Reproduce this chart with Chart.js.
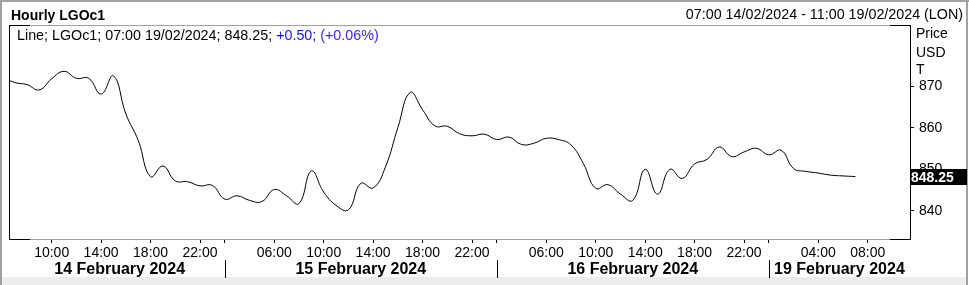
<!DOCTYPE html>
<html>
<head>
<meta charset="utf-8">
<script src="https://cdn.jsdelivr.net/npm/chart.js@4.4.1/dist/chart.umd.min.js"></script>
<style>
  html, body { margin: 0; padding: 0; background: #fff; }
  canvas { display: block; }
</style>
</head>
<body>
<canvas id="priceChart" width="969" height="285"></canvas>
<script>
// Hourly bars per trading day (London time)
const dayNames = ['14 February 2024', '15 February 2024', '16 February 2024', '19 February 2024'];
const hours14 = ['06:00', '07:00', '08:00', '09:00', '10:00', '11:00', '12:00', '13:00', '14:00',
    '15:00', '16:00', '17:00', '18:00', '19:00', '20:00', '21:00', '22:00', '23:00'];
const hours15 = ['02:00', '03:00', '04:00', '05:00', '06:00', '07:00', '08:00', '09:00', '10:00', '11:00', '12:00',
    '13:00', '14:00', '15:00', '16:00', '17:00', '18:00', '19:00', '20:00', '21:00', '22:00', '23:00'];
const hours16 = hours15;
const hours19 = ['00:00', '01:00', '02:00', '03:00', '04:00', '05:00', '06:00', '07:00', '08:00', '09:00', '10:00', '11:00'];

// labelled hours on the time axis, per day
const shownHours = [
    ['10:00', '14:00', '18:00', '22:00'],
    ['06:00', '10:00', '14:00', '18:00', '22:00'],
    ['06:00', '10:00', '14:00', '18:00', '22:00'],
    ['04:00', '08:00']
];

// LGOc1 close, USD/T (06:00 14 Feb to 07:00 19 Feb)
const prices = [
    872.4, 871.0, 870.5, 869.2, 871.9, 873.7, 872.0, 872.0, 868.2, 872.6, 863.4, 857.0, 848.2, 850.8, 847.2, 847.0, 846.0, 846.1,
    842.8, 843.6, 842.5, 842.2, 845.1, 843.6, 841.7, 849.6, 844.5, 841.3, 840.2, 846.6, 845.5, 850.6, 860.1, 868.6, 864.4, 860.5, 860.4, 858.6, 858.1, 858.5,
    857.2, 857.8, 856.0, 856.3, 857.5, 857.2, 855.9, 851.4, 845.4, 846.3, 844.0, 842.5, 850.0, 844.0, 850.0, 847.8, 851.3, 852.4, 855.4, 853.1, 854.2, 855.1,
    853.5, 854.6, 850.2, 849.5, 849.1, 848.6, 848.4, 848.25
];
const yTicks = [840, 850, 860, 870];

const FONT = "'Liberation Sans', Arial, sans-serif";

// flatten the hour slots and remember where each day starts
const allDays = [hours14, hours15, hours16, hours19];
const slots = [];
const dayStarts = [];
allDays.forEach((hrs, d) => {
    dayStarts.push(slots.length);
    hrs.forEach(h => slots.push({ day: d, hour: h }));
});

const points = prices.map((p, i) => ({ x: i, y: p }));

const xTickValues = [];
slots.forEach((s, i) => {
    if (dayStarts.includes(i) && i > 0) xTickValues.push(i);
    else if (shownHours[s.day].includes(s.hour)) xTickValues.push(i);
});

const chrome = {
    id: 'chrome',
    beforeDraw(chart) {
        const ctx = chart.ctx;
        ctx.save();
        ctx.fillStyle = '#fff';
        ctx.fillRect(0, 0, chart.width, chart.height);
        ctx.fillStyle = '#ececec';
        ctx.fillRect(2, 277, 964, 8);
        ctx.restore();
    },
    afterDraw(chart) {
        const ctx = chart.ctx;
        const a = chart.chartArea;
        const xs = chart.scales.x;
        const ys = chart.scales.y;
        ctx.save();

        // outer border
        ctx.fillStyle = '#a0a0a0';
        ctx.fillRect(0, 0, 2, chart.height);
        ctx.fillRect(0, 0, chart.width, 2);
        ctx.fillRect(966, 0, 2, chart.height);

        // plot frame: grey top/bottom with black corners, black sides
        ctx.fillStyle = '#a0a0a0';
        ctx.fillRect(a.left, a.top, a.right - a.left, 1);
        ctx.fillRect(a.left, a.bottom, a.right - a.left, 1);
        ctx.fillStyle = '#000';
        ctx.fillRect(a.left, a.top, 21, 1);
        ctx.fillRect(a.right - 20, a.top, 21, 1);
        ctx.fillRect(a.left, a.bottom, 21, 1);
        ctx.fillRect(a.right - 20, a.bottom, 21, 1);
        ctx.fillRect(a.left, a.top, 1, a.bottom - a.top + 1);
        ctx.fillRect(a.right, a.top, 1, a.bottom - a.top + 1);

        // header
        ctx.fillStyle = '#000';
        ctx.textBaseline = 'alphabetic';
        ctx.font = 'bold 14px ' + FONT;
        ctx.textAlign = 'left';
        ctx.fillText('Hourly LGOc1', 11, 19.5);
        ctx.font = '14.3px ' + FONT;
        ctx.textAlign = 'right';
        ctx.fillText('07:00 14/02/2024 - 11:00 19/02/2024 (LON)', 963, 19);

        // legend line
        ctx.textAlign = 'left';
        const last = prices[prices.length - 1];
        const parts = [
            ['Line; LGOc1; 07:00 19/02/2024; ' + last.toFixed(2) + '; ', '#000'],
            ['+0.50; ', '#1010ff'],
            ['(+0.06%)', '#4020ff']
        ];
        let lx = 17;
        parts.forEach(([t, c]) => {
            ctx.fillStyle = c;
            ctx.fillText(t, lx, 40);
            lx += ctx.measureText(t).width;
        });

        // axis unit title
        ctx.font = '14px ' + FONT;
        ctx.fillStyle = '#000';
        ctx.fillText('Price', 916, 38.3);
        ctx.fillText('USD', 916, 56.7);
        ctx.fillText('T', 916, 74);

        // last value tag
        const yv = ys.getPixelForValue(last);
        ctx.fillStyle = '#000';
        ctx.fillRect(a.right, Math.round(yv - 8), 57, 16);
        ctx.fillStyle = '#fff';
        ctx.font = 'bold 14px ' + FONT;
        ctx.fillText(last.toFixed(2), 911, yv + 5);

        // day row
        ctx.fillStyle = '#000';
        ctx.font = 'bold 16px ' + FONT;
        ctx.textAlign = 'center';
        dayNames.forEach((name, d) => {
            const start = d === 0 ? Math.max(a.left, xs.getPixelForValue(1)) : xs.getPixelForValue(dayStarts[d]);
            const end = d < dayNames.length - 1 ? xs.getPixelForValue(dayStarts[d + 1]) : a.right;
            ctx.fillText(name, (start + end) / 2, 274.3);
            if (d > 0) ctx.fillRect(Math.round(start), 260, 1, 18);
        });

        ctx.restore();
    }
};

new Chart(document.getElementById('priceChart'), {
    type: 'line',
    data: {
        datasets: [{
            label: 'LGOc1',
            data: points,
            borderColor: '#000',
            borderWidth: 1,
            pointRadius: 0,
            tension: 0.45,
            fill: false
        }]
    },
    options: {
        responsive: false,
        devicePixelRatio: 1,
        animation: false,
        layout: { padding: { left: 9, top: 25, right: 0, bottom: 0 } },
        plugins: {
            legend: { display: false },
            tooltip: { enabled: false }
        },
        scales: {
            x: {
                type: 'linear',
                min: 0.55,
                max: 73.42,
                afterBuildTicks: scale => {
                    scale.ticks = xTickValues.map(v => ({ value: v }));
                },
                afterFit: scale => { scale.height = 46; },
                grid: { drawOnChartArea: false, tickLength: 4, color: '#000' },
                border: { display: false },
                ticks: {
                    autoSkip: false,
                    maxRotation: 0,
                    padding: 2,
                    color: '#000',
                    font: { family: FONT, size: 14 },
                    callback: v => (dayStarts.includes(v) ? '' : slots[v].hour)
                }
            },
            y: {
                position: 'right',
                min: 833.15,
                max: 884.9,
                afterBuildTicks: scale => {
                    scale.ticks = yTicks.map(v => ({ value: v }));
                },
                afterFit: scale => { scale.width = 59; },
                grid: { drawOnChartArea: false, tickLength: 4, color: '#000' },
                border: { display: false },
                ticks: {
                    padding: 5,
                    color: '#000',
                    font: { family: FONT, size: 14 }
                }
            }
        }
    },
    plugins: [chrome]
});
</script>
</body>
</html>
